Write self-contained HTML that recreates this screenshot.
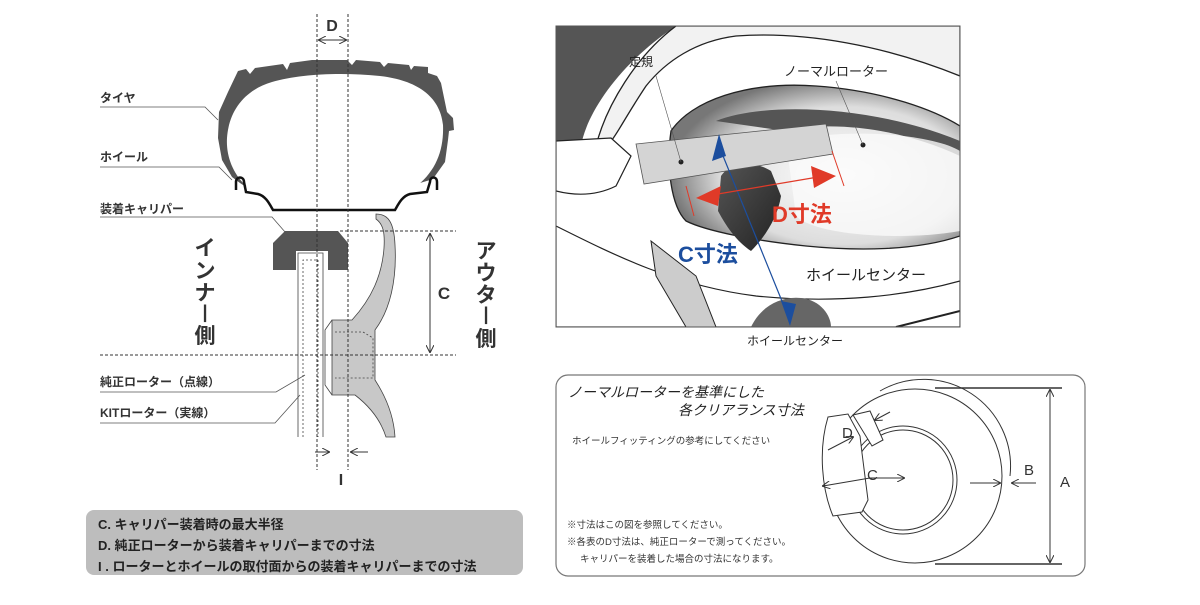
<!DOCTYPE html>
<html><head><meta charset="utf-8"><style>
html,body{margin:0;padding:0;background:#fff;}
svg{display:block;font-family:"Liberation Sans","Noto Sans CJK JP",sans-serif;}
</style></head><body>
<svg width="1200" height="605" viewBox="0 0 1200 605" xmlns="http://www.w3.org/2000/svg">
<defs>
<marker id="ah" markerWidth="8" markerHeight="8" refX="7" refY="4" orient="auto" markerUnits="userSpaceOnUse"><path d="M0,0 L8,4 L0,8" fill="none" stroke="#333" stroke-width="1"/></marker>
<radialGradient id="bowl" cx="0.6" cy="0.55" r="0.6"><stop offset="0" stop-color="#fff"/><stop offset="0.7" stop-color="#ddd"/><stop offset="1" stop-color="#777"/></radialGradient>
<linearGradient id="dk" x1="0" y1="0" x2="1" y2="1"><stop offset="0" stop-color="#555"/><stop offset="1" stop-color="#222"/></linearGradient>
</defs>

<!-- tire -->
<path d="M238,71 L246,69 L250,74 L255,68 L283,64 L287,70 L290,63 L312,60 L347,60 L352,65 L356,60 L380,62 L384,67 L388,63 L409,65 L411,70 L414,66 L428,67 L428,73 L437,76 L441,83 L447,112 L453,118 L454,130 L449,131 L448,140 L445,162 L435,176 L430,180 L410,186 L404,176 L394,160 L378,147 L340,140 L300,140 L270,148 L255,163 L247,176 L246,187 L240,183 L232,177 L222,160 L218,138 L219,112 L228,92 Z" fill="#555"/>
<path d="M227,138 C229,110 245,90 272,82 C300,74 340,72 380,76 C415,80 440,95 443,125 C444,150 436,170 418,185 L408,187 C398,165 380,150 340,146 L300,146 C272,150 258,165 251,187 L245,185 C232,172 226,155 227,138 Z" fill="#fff"/>
<!-- rim -->
<path d="M236,190 L236,182 C236,176 244,176 244,182 L246,192 L258,194 C266,196 270,205 273,210 L395,210 C398,205 402,196 410,194 L427,192 L430,182 C430,176 437,176 437,182 L437,190" fill="none" stroke="#111" stroke-width="2.5"/>
<!-- wheel spoke -->
<path d="M376,214 C388,214 394,222 395,245 C397,280 390,310 375,330 L375,380 C388,400 394,420 395,437 L386,437 C380,418 368,405 355,395 L332,395 L332,320 L352,320 C372,298 382,275 384,248 C385,232 383,224 376,219 Z" fill="#c8c8c8" stroke="#444" stroke-width="0.8"/>
<path d="M332,320 L325,330 L325,385 L332,395" fill="none" stroke="#444" stroke-width="0.8"/>
<g stroke="#444" stroke-width="0.8" stroke-dasharray="2,2" fill="none">
<path d="M335,332 L363,332 L373,338 L373,378 L335,378"/>
</g>
<!-- caliper -->
<path d="M273,243 L285,231 L338,231 L348,243 L348,270 L328,270 L328,251 L296,251 L296,270 L273,270 Z" fill="#555"/>
<!-- rotor -->
<g fill="none" stroke="#444" stroke-width="0.8">
<path d="M298,437 L298,253 L323,253 L323,437"/>
<path d="M303,437 L303,260 L318,260 L318,437" stroke-dasharray="2,2"/>
</g>
<!-- dashed verticals -->
<g stroke="#333" stroke-width="1" stroke-dasharray="3,2" fill="none">
<line x1="317" y1="14" x2="317" y2="470"/>
<line x1="348" y1="14" x2="348" y2="470"/>
<line x1="340" y1="231" x2="456" y2="231"/>
<line x1="100" y1="355" x2="456" y2="355"/>
</g>
<!-- D arrow -->
<line x1="319" y1="40" x2="346" y2="40" stroke="#333" stroke-width="1" marker-end="url(#ah)"/>
<line x1="346" y1="40" x2="319" y2="40" stroke="#333" stroke-width="1" marker-end="url(#ah)"/>
<text x="332" y="31" font-size="16" font-weight="bold" text-anchor="middle" fill="#333">D</text>
<!-- C arrow -->
<line x1="430" y1="300" x2="430" y2="234" stroke="#333" marker-end="url(#ah)"/>
<line x1="430" y1="300" x2="430" y2="352" stroke="#333" marker-end="url(#ah)"/>
<text x="444" y="299" font-size="17" font-weight="bold" text-anchor="middle" fill="#333">C</text>
<!-- I arrows -->
<line x1="315" y1="452" x2="329" y2="452" stroke="#333" marker-end="url(#ah)"/>
<line x1="368" y1="452" x2="351" y2="452" stroke="#333" marker-end="url(#ah)"/>
<text x="341" y="485" font-size="16" font-weight="bold" text-anchor="middle" fill="#333">I</text>
<!-- vertical labels -->
<g font-size="21" font-weight="bold" fill="#333" text-anchor="middle">
<text x="205" y="255">イ</text><text x="205" y="278">ン</text><text x="205" y="300">ナ</text><text x="205" y="318" font-size="18">|</text><text x="205" y="343">側</text>
<text x="486" y="258">ア</text><text x="486" y="280">ウ</text><text x="486" y="302">タ</text><text x="486" y="320" font-size="18">|</text><text x="486" y="346">側</text>
</g>
<!-- left labels -->
<g font-size="12" font-weight="bold" fill="#333">
<text x="100" y="102">タイヤ</text>
<text x="100" y="161">ホイール</text>
<text x="100" y="213">装着キャリパー</text>
<text x="100" y="386">純正ローター（点線）</text>
<text x="100" y="417">KITローター（実線）</text>
</g>
<g fill="none" stroke="#555" stroke-width="0.8">
<path d="M100,107 L205,107 L218,120"/>
<path d="M100,167 L219,167 L232,180"/>
<path d="M100,217 L272,217 L292,240"/>
<path d="M100,392 L276,392 L305,375"/>
<path d="M100,423 L275,423 L300,395"/>
</g>
<!-- bottom box -->
<rect x="86" y="510" width="437" height="65" rx="8" fill="#bdbdbd"/>
<g font-size="13" font-weight="bold" fill="#222">
<text x="98" y="529">C. キャリパー装着時の最大半径</text>
<text x="98" y="550">D. 純正ローターから装着キャリパーまでの寸法</text>
<text x="98" y="571">I . ローターとホイールの取付面からの装着キャリパーまでの寸法</text>
</g>

<!-- PHOTO -->
<svg x="556" y="26" width="404" height="301" viewBox="0 0 404 301">
<rect width="404" height="301" fill="#fff"/>
<path d="M0,0 L120,0 C60,40 30,90 25,120 L0,115 Z" fill="#555"/>
<path d="M0,230 L0,301 L40,301 C20,280 10,255 5,230 Z" fill="#444"/>
<path d="M120,0 L404,0 L404,50 C330,20 250,5 180,10 C140,15 110,35 90,60 C70,90 60,110 55,115 L40,120 C50,80 80,30 120,0 Z" fill="#f2f2f2" stroke="#222" stroke-width="1.3"/>
<path d="M115,105 C135,75 190,55 260,60 C330,65 380,85 404,100 L404,210 C360,225 300,225 250,220 C200,215 150,205 130,195 C115,180 110,140 115,105 Z" fill="url(#bowl)" stroke="#222" stroke-width="1.3"/>
<path d="M160,95 C210,75 320,80 404,115 L404,130 C340,100 270,95 230,105 Z" fill="#555"/>
<path d="M230,115 C300,100 380,110 404,125 L404,205 C350,215 260,210 240,190 Z" fill="#fafafa" opacity="0.8"/>
<path d="M165,150 C175,135 200,135 215,145 L225,170 C222,190 210,210 195,225 C180,215 170,200 162,185 Z" fill="url(#dk)"/>
<path d="M0,115 L55,112 L75,130 L60,160 C40,170 20,170 0,165 Z" fill="#fff" stroke="#222" stroke-width="1.2"/>
<path d="M80,118 L270,98 L277,128 L88,158 Z" fill="#d4d4d4" stroke="#555" stroke-width="0.8"/>
<circle cx="125" cy="136" r="2.5" fill="#222"/><circle cx="307" cy="119" r="2.5" fill="#222"/>
<path d="M125,136 L100,50 M307,119 L280,55" stroke="#555" stroke-width="0.6"/>
<path d="M0,200 C60,230 120,260 200,270 C280,278 350,270 404,255 L404,301 L0,301 Z" fill="#fff" stroke="#222" stroke-width="1.2"/>
<path d="M95,215 L140,250 L160,301 L130,301 L100,250 Z" fill="#ccc" stroke="#222"/>
<path d="M195,301 C205,280 225,270 245,272 C265,274 275,290 275,301 Z" fill="#666"/>
<path d="M340,301 L404,285" stroke="#222" stroke-width="2"/>
<line x1="163" y1="120" x2="232" y2="290" stroke="#1c4e9e" stroke-width="1.2"/>
<path d="M163,108 L156,135 L170,130 Z" fill="#1c4e9e"/>
<path d="M234,300 L225,275 L240,278 Z" fill="#1c4e9e"/>
<line x1="150" y1="170" x2="268" y2="150" stroke="#e03a28" stroke-width="1.2"/>
<path d="M140,172 L165,160 L162,180 Z" fill="#e03a28"/>
<path d="M280,150 L255,140 L258,162 Z" fill="#e03a28"/>
<line x1="130" y1="160" x2="138" y2="190" stroke="#e03a28"/><line x1="276" y1="125" x2="288" y2="160" stroke="#e03a28"/>
<text x="216" y="196" font-size="22" font-weight="bold" fill="#e03a28">D寸法</text>
<text x="122" y="236" font-size="22" font-weight="bold" fill="#1c4e9e">C寸法</text>
<text x="73" y="40" font-size="12" fill="#222">定規</text>
<text x="228" y="50" font-size="13" fill="#222">ノーマルローター</text>
<text x="250" y="254" font-size="15" fill="#222">ホイールセンター</text>
</svg>
<rect x="556" y="26" width="404" height="301" fill="none" stroke="#555" stroke-width="1"/>
<text x="795" y="345" font-size="12" fill="#222" text-anchor="middle">ホイールセンター</text>

<!-- CLEARANCE BOX -->
<rect x="556" y="375" width="529" height="201" rx="12" fill="#fff" stroke="#777" stroke-width="1.2"/>
<g font-size="14" font-style="italic" fill="#222">
<text x="568" y="397">ノーマルローターを基準にした</text>
<text x="678" y="415">各クリアランス寸法</text>
</g>
<text x="572" y="444" font-size="9.5" fill="#333">ホイールフィッティングの参考にしてください</text>
<g font-size="9.5" fill="#333">
<text x="567" y="528">※寸法はこの図を参照してください。</text>
<text x="567" y="545">※各表のD寸法は、純正ローターで測ってください。</text>
<text x="580" y="562">キャリパーを装着した場合の寸法になります。</text>
</g>
<g fill="none" stroke="#333" stroke-width="1">
<circle cx="915" cy="476" r="87"/>
<path d="M880,391 A87,87 0 0 1 1010,476"/>
<circle cx="903" cy="480" r="54"/>
<circle cx="903" cy="480" r="50"/>
<line x1="935" y1="388" x2="1062" y2="388" stroke-width="1.5"/>
<line x1="935" y1="564" x2="1062" y2="564" stroke-width="1.5"/>
</g>
<path d="M828,417 L848,414 L860,436 L862,453 L868,500 L862,512 L833,516 C822,490 818,450 828,417 Z" fill="#fff" stroke="#333"/>
<path d="M853,415 L870,411 L883,440 L872,446 Z" fill="#fff" stroke="#333"/>
<line x1="1050" y1="476" x2="1050" y2="390" stroke="#333" marker-end="url(#ah)"/>
<line x1="1050" y1="476" x2="1050" y2="562" stroke="#333" marker-end="url(#ah)"/>
<line x1="870" y1="478" x2="823" y2="486" stroke="#333" marker-end="url(#ah)"/>
<line x1="870" y1="478" x2="904" y2="478" stroke="#333" marker-end="url(#ah)"/>
<line x1="970" y1="483" x2="1000" y2="483" stroke="#333" marker-end="url(#ah)"/>
<line x1="1036" y1="483" x2="1012" y2="483" stroke="#333" marker-end="url(#ah)"/>
<line x1="828" y1="450" x2="853" y2="437" stroke="#333" marker-end="url(#ah)"/>
<line x1="890" y1="412" x2="875" y2="420" stroke="#333" marker-end="url(#ah)"/>
<g font-size="15" fill="#333">
<text x="1060" y="487">A</text><text x="1024" y="475">B</text><text x="867" y="480">C</text><text x="842" y="438">D</text>
</g>
</svg>
</body></html>
